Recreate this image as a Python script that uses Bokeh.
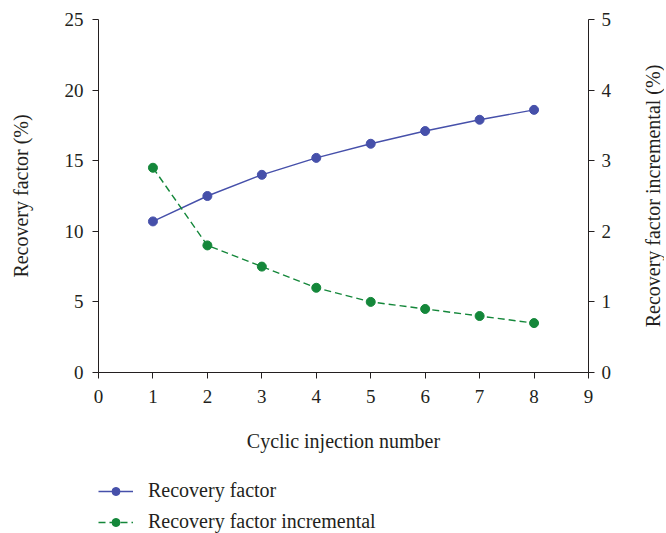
import math
from bokeh.plotting import figure
from bokeh.layouts import column, row
from bokeh.models import Range1d, LinearAxis, Legend, LegendItem, FixedTicker, Label
from bokeh.embed import file_html
from bokeh.resources import INLINE

cycles = [1, 2, 3, 4, 5, 6, 7, 8]
recovery_factor = [10.7, 12.5, 14.0, 15.2, 16.2, 17.1, 17.9, 18.6]
recovery_incremental = [2.9, 1.8, 1.5, 1.2, 1.0, 0.9, 0.8, 0.7]
x_ticks = [0, 1, 2, 3, 4, 5, 6, 7, 8, 9]
left_ticks = [0, 5, 10, 15, 20, 25]
right_ticks = [0, 1, 2, 3, 4, 5]

FONT = "Liberation Serif"
BLUE = "#4650aa"
GREEN = "#14873a"
INK = "#231f20"

p = figure(width=640, height=457, output_backend="svg", toolbar_location=None,
           x_range=Range1d(0, 9), y_range=Range1d(0, 25),
           min_border_left=98, min_border_right=52, min_border_top=19, min_border_bottom=85)
p.outline_line_color = None
p.xgrid.visible = False
p.ygrid.visible = False
p.extra_y_ranges = {"inc": Range1d(0, 5)}

def style(ax, label, standoff, label_standoff):
    ax.axis_label = label
    ax.axis_label_text_font = FONT
    ax.axis_label_text_font_size = "20px"
    ax.axis_label_text_font_style = "normal"
    ax.axis_label_text_color = INK
    ax.axis_label_standoff = label_standoff
    ax.major_label_text_font = FONT
    ax.major_label_text_font_size = "19px"
    ax.major_label_text_color = INK
    ax.major_label_standoff = standoff
    ax.axis_line_color = INK
    ax.major_tick_line_color = INK
    ax.major_tick_out = 6
    ax.major_tick_in = 0
    ax.minor_tick_line_color = None

style(p.xaxis[0], "Cyclic injection number", 11, 24)
p.xaxis[0].ticker = FixedTicker(ticks=x_ticks)
style(p.yaxis[0], "Recovery factor (%)", 9, 30)
p.yaxis[0].ticker = FixedTicker(ticks=left_ticks)

ax_r = LinearAxis(y_range_name="inc")
style(ax_r, None, 7, 0)
ax_r.ticker = FixedTicker(ticks=right_ticks)
p.add_layout(ax_r, "right")

def draw(fig, inc_range):
    l1 = fig.line(cycles, recovery_factor, line_color=BLUE, line_width=1.4)
    s1 = fig.scatter(cycles, recovery_factor, size=9, fill_color=BLUE, line_color=BLUE)
    l2 = fig.line(cycles, recovery_incremental, line_color=GREEN, line_width=1.4,
                  line_dash="7 4", y_range_name=inc_range)
    s2 = fig.scatter(cycles, recovery_incremental, size=9, fill_color=GREEN, line_color=GREEN,
                     y_range_name=inc_range)
    return l1, s1, l2, s2

draw(p, "inc")

# right-hand axis title, reading bottom to top like the reference
p3 = figure(width=24, height=457, output_backend="svg", toolbar_location=None,
            x_range=Range1d(0, 1), y_range=Range1d(0, 1),
            min_border_left=0, min_border_right=0, min_border_top=19, min_border_bottom=85)
p3.axis.visible = False
p3.xgrid.visible = False
p3.ygrid.visible = False
p3.outline_line_color = None
p3.add_layout(Label(x=0.5, y=0.5, text="Recovery factor incremental (%)", angle=math.pi / 2,
                    text_align="center", text_baseline="middle", text_font=FONT,
                    text_font_size="20px", text_color=INK))

# legend strip below the chart (its copies of the series lie outside its view)
p2 = figure(width=640, height=76, output_backend="svg", toolbar_location=None,
            x_range=Range1d(100, 101), y_range=Range1d(100, 101),
            min_border=0, min_border_left=0, min_border_right=0,
            min_border_top=0, min_border_bottom=0)
p2.axis.visible = False
p2.xgrid.visible = False
p2.ygrid.visible = False
p2.outline_line_color = None
p2.extra_y_ranges = {"inc": Range1d(100, 101)}
l1, s1, l2, s2 = draw(p2, "inc")

legend = Legend(items=[LegendItem(label="Recovery factor", renderers=[l1, s1]),
                       LegendItem(label="Recovery factor incremental", renderers=[l2, s2])],
                location=(0, 0), orientation="vertical",
                glyph_width=35, glyph_height=20, label_height=20, label_standoff=15,
                spacing=8, padding=0, margin=0,
                label_text_font=FONT, label_text_font_size="20px", label_text_color=INK,
                border_line_color=None, background_fill_alpha=0)
p2.add_layout(legend, "center")

layout = row(column(p, p2, spacing=0), p3, spacing=0)
open("out.html", "w").write(file_html(layout, INLINE))
